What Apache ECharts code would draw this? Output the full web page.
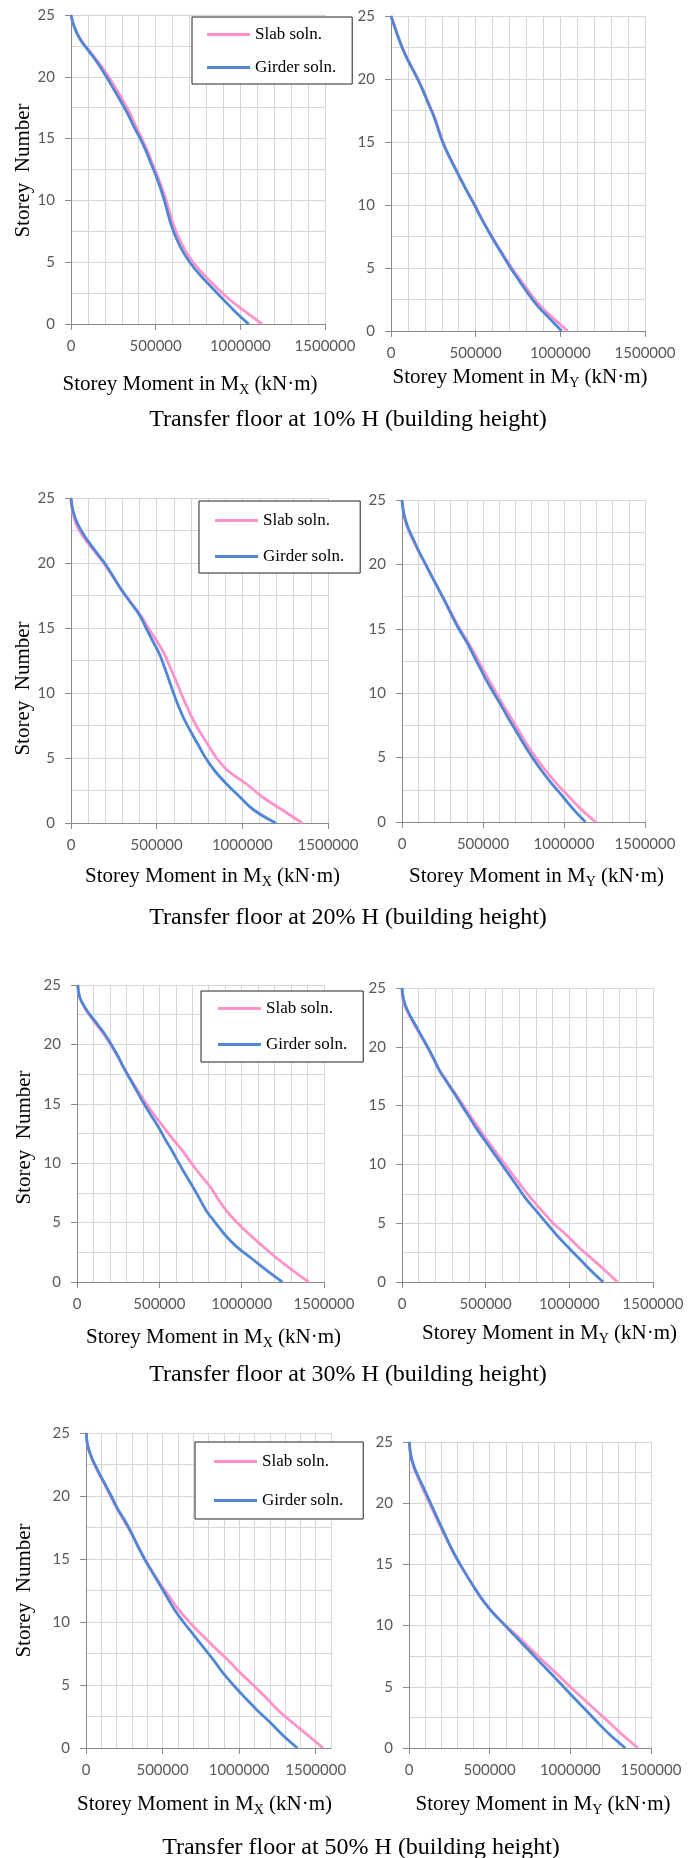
<!DOCTYPE html>
<html>
<head>
<meta charset="utf-8">
<script src="https://cdn.jsdelivr.net/npm/echarts@6/dist/echarts.min.js"></script>
<style>
  html, body { margin: 0; padding: 0; background: #fff; }
  #chart { width: 694px; height: 1858px; }
</style>
</head>
<body>
<div id="chart"></div>
<script>
// Storey numbers (ground = 0, roof = 25)
const storeys = [0, 1, 2, 3, 4, 5, 6, 7, 8, 9, 10, 11, 12, 13, 14, 15, 16, 17, 18, 19, 20, 21, 22, 23, 24, 25];

// Tick labels
const xTickValues = [0, 500000, 1000000, 1500000];
const yTickValues = [0, 5, 10, 15, 20, 25];

const seriesNames = ['Slab soln.', 'Girder soln.'];
const captions = [
  'Transfer floor at 10% H (building height)',
  'Transfer floor at 20% H (building height)',
  'Transfer floor at 30% H (building height)',
  'Transfer floor at 50% H (building height)'
];

// Storey moments (kN·m), indexed by storey 0..25
const slabMx10   = [1128000, 1030000, 935000, 857000, 784000, 720000, 672000, 636000, 606000, 583000, 562000, 537000, 510000, 480000, 452000, 418000, 383000, 350000, 310000, 268000, 222000, 172000, 115000, 58000, 20000, 0];
const girderMx10 = [1049000, 970000, 898000, 829000, 760000, 701000, 655000, 620000, 592000, 571000, 551000, 528000, 502000, 472000, 443000, 409000, 370000, 335000, 295000, 252000, 209000, 163000, 110000, 55000, 20000, 0];
const slabMy10   = [1044000, 959000, 881000, 822000, 767000, 714000, 665000, 618000, 574000, 533000, 495000, 454000, 415000, 377000, 340000, 307000, 281000, 256000, 225000, 194000, 160000, 121000, 84000, 53000, 26000, 0];
const girderMy10 = [1008000, 936000, 865000, 808000, 757000, 706000, 661000, 615000, 572000, 531000, 493000, 452000, 413000, 375000, 338000, 305000, 279000, 254000, 222000, 191000, 157000, 118000, 81000, 51000, 25000, 0];

const slabMx20   = [1350000, 1234000, 1117000, 1024000, 918000, 850000, 801000, 753000, 710000, 675000, 642000, 611000, 578000, 545000, 501000, 452000, 405000, 348000, 293000, 242000, 190000, 130000, 72000, 30000, 8000, 0];
const girderMx20 = [1195000, 1067000, 986000, 908000, 840000, 786000, 743000, 700000, 660000, 627000, 598000, 572000, 545000, 516000, 477000, 438000, 400000, 345000, 291000, 244000, 196000, 138000, 83000, 39000, 12000, 0];
const slabMy20   = [1195000, 1105000, 1028000, 953000, 886000, 826000, 772000, 725000, 677000, 628000, 583000, 538000, 494000, 451000, 406000, 357000, 313000, 272000, 229000, 187000, 145000, 103000, 64000, 30000, 10000, 0];
const girderMy20 = [1133000, 1057000, 991000, 923000, 861000, 805000, 754000, 707000, 659000, 614000, 567000, 521000, 480000, 439000, 398000, 350000, 309000, 270000, 229000, 187000, 146000, 105000, 68000, 33000, 10000, 0];

const slabMx30   = [1407000, 1307000, 1214000, 1129000, 1048000, 972000, 907000, 856000, 810000, 751000, 694000, 644000, 583000, 528000, 472000, 421000, 374000, 329000, 285000, 247000, 203000, 155000, 100000, 50000, 15000, 5000];
const girderMx30 = [1247000, 1150000, 1059000, 967000, 897000, 840000, 785000, 745000, 704000, 660000, 619000, 579000, 536000, 496000, 451000, 407000, 366000, 326000, 285000, 249000, 208000, 162000, 107000, 53000, 16000, 5000];
const slabMy30   = [1288000, 1212000, 1133000, 1053000, 983000, 904000, 840000, 778000, 722000, 668000, 616000, 563000, 512000, 462000, 414000, 367000, 320000, 272000, 225000, 188000, 150000, 110000, 70000, 32000, 5000, 0];
const girderMy30 = [1202000, 1127000, 1059000, 990000, 924000, 864000, 805000, 745000, 695000, 646000, 596000, 546000, 497000, 447000, 403000, 358000, 314000, 268000, 223000, 189000, 153000, 113000, 74000, 36000, 10000, 0];

const slabMx50   = [1548000, 1450000, 1350000, 1255000, 1175000, 1092000, 1005000, 925000, 838000, 755000, 675000, 604000, 545000, 486000, 433000, 385000, 340000, 298000, 250000, 202000, 160000, 118000, 75000, 37000, 11000, 2000];
const girderMx50 = [1381000, 1287000, 1205000, 1118000, 1038000, 962000, 892000, 832000, 766000, 701000, 636000, 577000, 528000, 480000, 430000, 382000, 339000, 300000, 256000, 206000, 165000, 122000, 78000, 39000, 11000, 2000];
const slabMy50   = [1419000, 1330000, 1248000, 1165000, 1082000, 999000, 921000, 840000, 761000, 683000, 600000, 525000, 462000, 410000, 362000, 316000, 273000, 235000, 198000, 162000, 127000, 92000, 58000, 28000, 10000, 2000];
const girderMy50 = [1341000, 1252000, 1175000, 1103000, 1030000, 958000, 886000, 813000, 741000, 668000, 596000, 523000, 461000, 410000, 362000, 317000, 275000, 238000, 203000, 168000, 134000, 99000, 64000, 31000, 10000, 2000];

// ---- styling / layout ----
const SERIF = '"Liberation Serif", "Times New Roman", serif';
const SANS = 'Lato, "Open Sans", sans-serif';
const SLAB_COLOR = '#ff93c9';
const GIRDER_COLOR = '#4f86d6';
const GRID_COLOR = '#d6d6d6';
const AXIS_COLOR = '#8a8a8a';
const X_GRID_STEP = 100000;
const Y_GRID_STEP = 2.5;

const panels = [
  { grid: [71, 15, 254, 309],   xMax: 1500000, dir: 'X', slab: slabMx10, girder: girderMx10, xGap: 47, xShift: -8,
    yName: { gap: 37, shift: 1 },
    legend: { left: 192, top: 17, padding: [9, 16, 8, 15], gap: 16 } },
  { grid: [391, 16, 254, 315],  xMax: 1500000, dir: 'Y', slab: slabMy10, girder: girderMy10, xGap: 33, xShift: 2 },
  { grid: [71, 498, 257, 325],  xMax: 1500000, dir: 'X', slab: slabMx20, girder: girderMx20, xGap: 40, xShift: 13,
    yName: { gap: 37, shift: 28 },
    legend: { left: 199, top: 501, padding: [11, 16, 8, 16], gap: 19 } },
  { grid: [402, 500, 243, 322], xMax: 1500000, dir: 'Y', slab: slabMy20, girder: girderMy20, xGap: 41, xShift: 13 },
  { grid: [77, 985, 247, 297],  xMax: 1500000, dir: 'X', slab: slabMx30, girder: girderMx30, xGap: 42, xShift: 13,
    yName: { gap: 42, shift: 4 },
    legend: { left: 201, top: 991, padding: [9, 16, 9, 17], gap: 19 } },
  { grid: [402, 988, 251, 294], xMax: 1500000, dir: 'Y', slab: slabMy30, girder: girderMy30, xGap: 38, xShift: 22 },
  { grid: [86, 1433, 245, 315], xMax: 1600000, dir: 'X', slab: slabMx50, girder: girderMx50, xGap: 43, xShift: -4,
    yName: { gap: 51, shift: 0 },
    legend: { left: 195, top: 1442, padding: [11, 20, 10, 19], gap: 22 } },
  { grid: [409, 1442, 242, 306], xMax: 1500000, dir: 'Y', slab: slabMy50, girder: girderMy50, xGap: 43, xShift: 13 }
];

const captionPos = [[348, 420], [348, 918], [348, 1375], [361, 1848]];

function pairs(values) {
  return storeys.map((s, i) => [values[i], s]);
}
const plain = v => String(v);

const grids = [], xAxes = [], yAxes = [], series = [], legends = [];

panels.forEach((p, i) => {
  grids.push({ left: p.grid[0], top: p.grid[1], width: p.grid[2], height: p.grid[3], containLabel: false });

  const padL = p.xShift > 0 ? 2 * p.xShift : 0;
  const padR = p.xShift < 0 ? -2 * p.xShift : 0;

  // visible x axis: line, major ticks, labels, title
  xAxes.push({
    type: 'value', gridIndex: i, position: 'bottom', min: 0, max: p.xMax,
    name: 'Storey Moment in M{sub|' + p.dir + '} (kN·m)',
    nameLocation: 'middle', nameGap: p.xGap,
    nameTextStyle: {
      fontFamily: SERIF, fontSize: 21, color: '#000', padding: [0, padR, 0, padL],
      rich: { sub: { fontFamily: SERIF, fontSize: 14, color: '#000', padding: [12, 0, 0, 0] } }
    },
    axisLine: { show: true, onZero: false, lineStyle: { color: AXIS_COLOR, width: 1 } },
    axisTick: { show: true, length: 6, customValues: xTickValues, lineStyle: { color: AXIS_COLOR } },
    axisLabel: { customValues: xTickValues, formatter: plain, margin: 15, fontFamily: SANS, fontSize: 15, color: '#595959' },
    splitLine: { show: false }
  });
  // gridline-only x axis
  xAxes.push({
    type: 'value', gridIndex: i, position: 'top', min: 0, max: p.xMax, interval: X_GRID_STEP,
    axisLine: { show: false }, axisTick: { show: false }, axisLabel: { show: false },
    splitLine: { show: true, lineStyle: { color: GRID_COLOR, width: 1 } }
  });

  const y = {
    type: 'value', gridIndex: i, position: 'left', min: 0, max: 25,
    axisLine: { show: true, onZero: false, lineStyle: { color: AXIS_COLOR, width: 1 } },
    axisTick: { show: true, length: 6, customValues: yTickValues, lineStyle: { color: AXIS_COLOR } },
    axisLabel: { customValues: yTickValues, formatter: plain, margin: 16, fontFamily: SANS, fontSize: 15, color: '#595959' },
    splitLine: { show: false }
  };
  if (p.yName) {
    y.name = 'Storey  Number';
    y.nameLocation = 'middle';
    y.nameGap = p.yName.gap;
    y.nameTextStyle = { fontFamily: SERIF, fontSize: 21, color: '#000', padding: [0, 2 * p.yName.shift, 0, 0] };
  }
  yAxes.push(y);
  // gridline-only y axis
  yAxes.push({
    type: 'value', gridIndex: i, position: 'right', min: 0, max: 25, interval: Y_GRID_STEP,
    axisLine: { show: false }, axisTick: { show: false }, axisLabel: { show: false },
    splitLine: { show: true, lineStyle: { color: GRID_COLOR, width: 1 } }
  });

  [[p.slab, SLAB_COLOR, seriesNames[0]], [p.girder, GIRDER_COLOR, seriesNames[1]]].forEach(([vals, color, name]) => {
    series.push({
      type: 'line', name, xAxisIndex: 2 * i, yAxisIndex: 2 * i,
      data: pairs(vals), smooth: 0.4, showSymbol: false, symbol: 'none',
      lineStyle: { color, width: 2.8 }, itemStyle: { color },
      emphasis: { disabled: true }, animation: false
    });
  });

  if (p.legend) {
    legends.push({
      orient: 'vertical', left: p.legend.left, top: p.legend.top,
      padding: p.legend.padding, itemGap: p.legend.gap,
      itemWidth: 43, itemHeight: 3, icon: 'rect',
      backgroundColor: '#fff', borderColor: '#222', borderWidth: 1, borderRadius: 0,
      textStyle: { fontFamily: SERIF, fontSize: 17, color: '#000' },
      data: seriesNames, selectedMode: false
    });
  }
});

const titles = captions.map((t, i) => ({
  text: t, left: captionPos[i][0], top: captionPos[i][1] - 12, textAlign: 'center', padding: 0,
  textStyle: { fontFamily: SERIF, fontSize: 24, fontWeight: 'normal', color: '#000' }
}));

const chart = echarts.init(document.getElementById('chart'), null, { renderer: 'canvas' });
chart.setOption({
  backgroundColor: '#fff',
  animation: false,
  title: titles,
  grid: grids,
  xAxis: xAxes,
  yAxis: yAxes,
  legend: legends,
  series: series
});
</script>
</body>
</html>
